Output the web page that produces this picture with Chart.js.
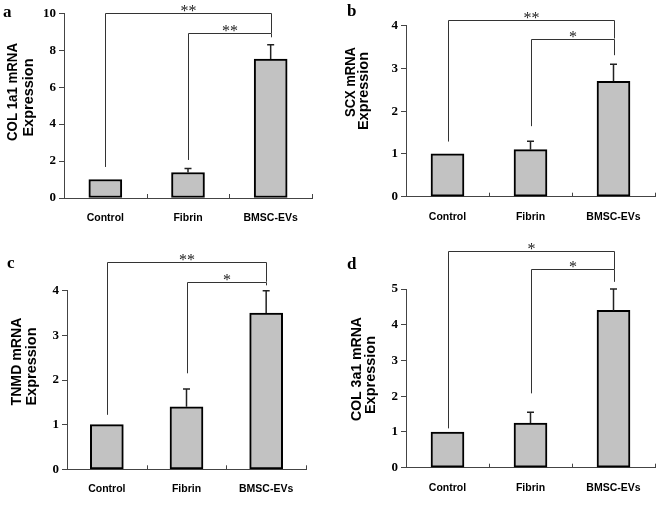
<!DOCTYPE html>
<html><head><meta charset="utf-8">
<script src="https://cdn.jsdelivr.net/npm/chart.js@4.4.0/dist/chart.umd.min.js"></script>
<style>
html,body{margin:0;padding:0;background:#fff;width:661px;height:505px;overflow:hidden;position:relative;}
canvas{position:absolute;}
.lbl{position:absolute;font:bold 17px "Liberation Serif",serif;color:#000;line-height:17px;}
</style></head><body>
<canvas id="ca" width="330" height="228" style="left:0;top:0"></canvas>
<canvas id="cb" width="331" height="228" style="left:330px;top:0"></canvas>
<canvas id="cc" width="330" height="277" style="left:0;top:228px"></canvas>
<canvas id="cd" width="331" height="277" style="left:330px;top:228px"></canvas>
<div class="lbl" style="left:3px;top:3px">a</div>
<div class="lbl" style="left:347px;top:2px">b</div>
<div class="lbl" style="left:7px;top:254px">c</div>
<div class="lbl" style="left:347px;top:255px">d</div>
<script>
const categories = ['Control', 'Fibrin', 'BMSC-EVs'];

const col1a1 = [1.0, 1.38, 7.52];
const col1a1Err = [0, 0.22, 0.78];
const col1a1Ticks = [0, 2, 4, 6, 8, 10];
const col1a1Title = ['COL 1a1 mRNA', 'Expression'];
const col1a1Sig = [
  {from: 0, to: 2, y: 10.03, left: 1.68, right: 8.93, label: '**'},
  {from: 1, to: 2, y: 8.93, left: 2.06, right: 8.70, label: '**'}
];

const scx = [1.0, 1.1, 2.7];
const scxErr = [0, 0.2, 0.4];
const scxTicks = [0, 1, 2, 3, 4];
const scxTitle = ['SCX mRNA', 'Expression'];
const scxSig = [
  {from: 0, to: 2, y: 4.13, left: 1.29, right: 3.70, label: '**'},
  {from: 1, to: 2, y: 3.70, left: 1.65, right: 3.31, label: '*'}
];

const tnmd = [1.0, 1.4, 3.5];
const tnmdErr = [0, 0.4, 0.5];
const tnmdTicks = [0, 1, 2, 3, 4];
const tnmdTitle = ['TNMD mRNA', 'Expression'];
const tnmdSig = [
  {from: 0, to: 2, y: 4.65, left: 1.22, right: 4.20, label: '**'},
  {from: 1, to: 2, y: 4.20, left: 2.15, right: 4.12, label: '*'}
];

const col3a1 = [1.0, 1.25, 4.4];
const col3a1Err = [0, 0.3, 0.6];
const col3a1Ticks = [0, 1, 2, 3, 4, 5];
const col3a1Title = ['COL 3a1 mRNA', 'Expression'];
const col3a1Sig = [
  {from: 0, to: 2, y: 6.05, left: 1.10, right: 5.55, label: '*'},
  {from: 1, to: 2, y: 5.55, left: 2.08, right: 5.20, label: '*'}
];

function makeExtras(values, errs, sig, titleLines, tpos) {
  return {
    id: 'extras',
    afterDatasetsDraw(chart) {
      const ctx = chart.ctx;
      const xs = chart.scales.x, ys = chart.scales.y;
      const meta = chart.getDatasetMeta(0);
      const area = chart.chartArea;
      ctx.save();
      // error bars
      ctx.strokeStyle = '#222';
      ctx.lineWidth = 1.5;
      values.forEach((v, i) => {
        if (!errs[i]) return;
        const x = meta.data[i].x;
        const y0 = ys.getPixelForValue(v);
        const y1 = ys.getPixelForValue(v + errs[i]);
        ctx.beginPath();
        ctx.moveTo(x, y0); ctx.lineTo(x, y1);
        ctx.moveTo(x - 3.5, y1); ctx.lineTo(x + 3.5, y1);
        ctx.stroke();
      });
      // inward x ticks between categories
      ctx.strokeStyle = '#444';
      ctx.lineWidth = 1;
      for (let i = 0; i < categories.length; i++) {
        let bx;
        if (i < categories.length - 1) bx = (xs.getPixelForValue(i) + xs.getPixelForValue(i + 1)) / 2;
        else bx = area.right - 0.5;
        bx = Math.round(bx) + 0.5;
        ctx.beginPath();
        ctx.moveTo(bx, area.bottom); ctx.lineTo(bx, area.bottom - 4);
        ctx.stroke();
      }
      // significance brackets
      ctx.strokeStyle = '#333';
      ctx.lineWidth = 1;
      ctx.fillStyle = '#222';
      ctx.font = '16px "Liberation Serif", serif';
      ctx.textAlign = 'center';
      ctx.textBaseline = 'alphabetic';
      sig.forEach(s => {
        const x1 = Math.round(xs.getPixelForValue(s.from)) + 0.5;
        const x2 = Math.round(xs.getPixelForValue(s.to)) + 0.5;
        const y = Math.round(ys.getPixelForValue(s.y)) + 0.5;
        const yl = ys.getPixelForValue(s.left);
        const yr = ys.getPixelForValue(s.right);
        ctx.beginPath();
        ctx.moveTo(x1, yl); ctx.lineTo(x1, y); ctx.lineTo(x2, y); ctx.lineTo(x2, yr);
        ctx.stroke();
        ctx.fillText(s.label, (x1 + x2) / 2, y + 2.5);
      });
      // y axis titles
      ctx.fillStyle = '#000';
      ctx.font = 'bold 14.5px "Liberation Sans", Arial, sans-serif';
      ctx.textAlign = 'center';
      ctx.textBaseline = 'alphabetic';
      titleLines.forEach((t, k) => {
        const p = tpos[k];
        ctx.save();
        ctx.translate(p.x, p.y);
        ctx.rotate(-Math.PI / 2);
        ctx.fillText(t, 0, 0, p.w);
        ctx.restore();
      });
      ctx.restore();
    }
  };
}

function makeChart(id, area, values, errs, ticks, sig, titleLines, tpos) {
  const cv = document.getElementById(id);
  const W = cv.width, H = cv.height;
  return new Chart(cv, {
    type: 'bar',
    data: {
      labels: categories,
      datasets: [{
        data: values,
        backgroundColor: '#c2c2c2',
        borderColor: '#000',
        borderWidth: 2,
        borderSkipped: false,
        barThickness: 33
      }]
    },
    options: {
      responsive: false,
      animation: false,
      devicePixelRatio: 1,
      layout: {padding: {left: 0, top: area.top, right: W - area.right, bottom: 0}},
      plugins: {legend: {display: false}, tooltip: {enabled: false}},
      scales: {
        x: {
          offset: true,
          grid: {display: false},
          border: {display: true, color: '#444', width: 1},
          ticks: {
            color: '#000', padding: 6, maxRotation: 0, autoSkip: false,
            font: {family: '"Liberation Sans", Arial, sans-serif', weight: 'bold', size: 10.5}
          },
          afterFit: s => { s.height = H - area.bottom; }
        },
        y: {
          min: ticks[0], max: ticks[ticks.length - 1],
          grid: {display: true, drawOnChartArea: false, drawTicks: true, tickLength: 5, color: '#444'},
          border: {display: true, color: '#444', width: 1},
          ticks: {
            color: '#000', padding: 3,
            font: {family: '"Liberation Serif", "Times New Roman", serif', weight: 'bold', size: 13}
          },
          afterBuildTicks: s => { s.ticks = ticks.map(v => ({value: v})); },
          afterFit: s => { s.width = area.left; }
        }
      }
    },
    plugins: [makeExtras(values, errs, sig, titleLines, tpos)]
  });
}

makeChart('ca', {left: 64, right: 312, top: 13.3, bottom: 198},
  col1a1, col1a1Err, col1a1Ticks, col1a1Sig, col1a1Title,
  [{x: 17, y: 92, w: 98}, {x: 32.5, y: 97.5, w: 84}]);
makeChart('cb', {left: 76, right: 325, top: 25.7, bottom: 196.7},
  scx, scxErr, scxTicks, scxSig, scxTitle,
  [{x: 25, y: 82, w: 70}, {x: 38, y: 91, w: 84}]);
makeChart('cc', {left: 67, right: 306, top: 62.7, bottom: 241.3},
  tnmd, tnmdErr, tnmdTicks, tnmdSig, tnmdTitle,
  [{x: 21, y: 133.5, w: 88}, {x: 36, y: 138.5, w: 84}]);
makeChart('cd', {left: 76, right: 325, top: 61, bottom: 239.7},
  col3a1, col3a1Err, col3a1Ticks, col3a1Sig, col3a1Title,
  [{x: 31, y: 141, w: 104}, {x: 44.5, y: 147, w: 84}]);
</script>
</body></html>
